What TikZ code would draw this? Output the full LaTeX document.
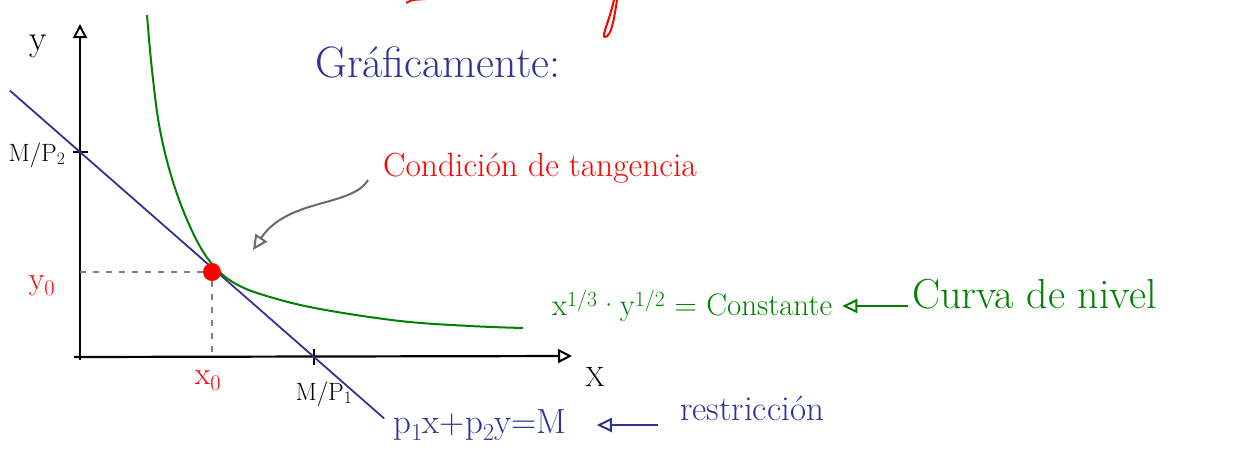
\documentclass[tikz,border=0pt]{standalone}
\usepackage{fontspec}
\usepackage{tikz}
\usetikzlibrary{arrows.meta,positioning,calc}
\definecolor{inkblue}{RGB}{50,50,150}
\definecolor{inkgreen}{RGB}{0,128,0}
\definecolor{inkred}{RGB}{255,0,0}
\definecolor{inkgray}{RGB}{105,105,105}
\newcommand{\hand}[1]{\fontsize{#1}{#1}\selectfont}
\tikzset{
  axis/.style={
    line width=2.2pt,
    draw=black,
    -{Triangle[open,length=14pt,width=14pt,line width=2pt]}
  },
  tickmark/.style={
    line width=2.2pt,
    draw=black
  },
  budget/.style={
    line width=1.8pt,
    draw=inkblue
  },
  indiff/.style={
    line width=2pt,
    draw=inkgreen
  },
  guide/.style={
    line width=1.8pt,
    draw=inkgray!85,
    dash pattern=on 6pt off 7pt
  },
  optdot/.style={
    circle,
    fill=inkred,
    inner sep=0pt,
    minimum size=18pt
  },
  pointer/.style={
    line width=2pt,
    -{Triangle[open,length=15pt,width=14pt,line width=2pt]}
  },
  lbl/.style={
    inner sep=0pt,
    anchor=west
  }
}

\begin{document}
\begin{tikzpicture}[x=1pt,y=-1pt]
  \useasboundingbox (0,0) rectangle (1256,461);

  % axes
  \coordinate (O) at (80,357);
  \coordinate (ytop) at (80,24);
  \coordinate (xend) at (572,356);
  \draw[axis] (80,360) -- (ytop);
  \draw[axis] (74,357) -- (xend);
  \node[lbl, anchor=center, font=\hand{36}] (ylab) at (38,46) {y};
  \node[lbl, anchor=center, font=\hand{28}] (xlab) at (595,377) {X};

  % intercepts
  \coordinate (yint) at (80,152);
  \coordinate (xint) at (314,357);
  \draw[tickmark] (yint) ++(-7,0) -- ++(15,0);
  \draw[tickmark] (xint) ++(0,-8) -- ++(0,16);
  \node[lbl, anchor=center, font=\hand{25}] (mp2) at (37,155) {M/P\textsubscript{2}};
  \node[lbl, anchor=center, font=\hand{25}] (mp1) at (324,394) {M/P\textsubscript{1}};

  % budget line and indifference curve
  \draw[budget] ($(yint)!-0.3!(xint)$) -- ($(yint)!1.3!(xint)$);
  \draw[indiff] plot[smooth, tension=0.6] coordinates {(147,15) (152,70) (160,130) (174,185) (193,233) (212,264) (236,284) (270,297) (320,309) (400,321) (470,326) (523,328)};

  % optimum
  \node[optdot] (opt) at (212,272) {};
  \draw[guide] (opt.center -| O) -- (opt.west);
  \draw[guide] (opt.south) -- (opt.center |- O);
  \node[lbl, anchor=center, text=inkred, font=\hand{32}] (yzero) at (42,286) {y\textsubscript{0}};
  \node[lbl, anchor=center, text=inkred, font=\hand{32}] (xzero) at (208,381) {x\textsubscript{0}};

  % notes
  \node[lbl, text=inkblue, font=\hand{44}] (graf) at (315,62) {Gráficamente:};
  \node[lbl, text=inkred, font=\hand{33.5}] (tang) at (383,168) {Condición de tangencia};
  \coordinate (tangtip) at (253,250);
  \draw[pointer, draw=inkgray] ([xshift=-15pt,yshift=-12pt]tang.west) .. controls (352,207) and (288,198) .. (tangtip);

  \node[lbl, text=inkgreen, font=\hand{31}] (level) at (552,306) {x\textsuperscript{1/3}·y\textsuperscript{1/2} = Constante};
  \node[lbl, text=inkgreen, font=\hand{42}] (levelname) at (912,294) {Curva de nivel};
  \draw[pointer, draw=inkgreen] ([xshift=-4pt]levelname.west |- level.east) -- ([xshift=10pt]level.east);

  \node[lbl, text=inkblue, font=\hand{35}] (budgeteq) at (393,425) {p\textsubscript{1}x+p\textsubscript{2}y=M};
  \node[lbl, text=inkblue, font=\hand{35}] (restr) at (680,408) {restricción};
  \draw[pointer, draw=inkblue] ([xshift=-22pt]restr.west |- budgeteq.east) -- ([xshift=30pt]budgeteq.east);

  % strokes cut off at the top edge
  \draw[line width=2pt, draw=inkred] (406,3) .. controls (410,0) .. (426,-1);
  \draw[line width=2pt, draw=inkred] (614,0) .. controls (609,22) and (601,37) .. (605,37) .. controls (611,37) and (614,20) .. (617,0);
\end{tikzpicture}
\end{document}
